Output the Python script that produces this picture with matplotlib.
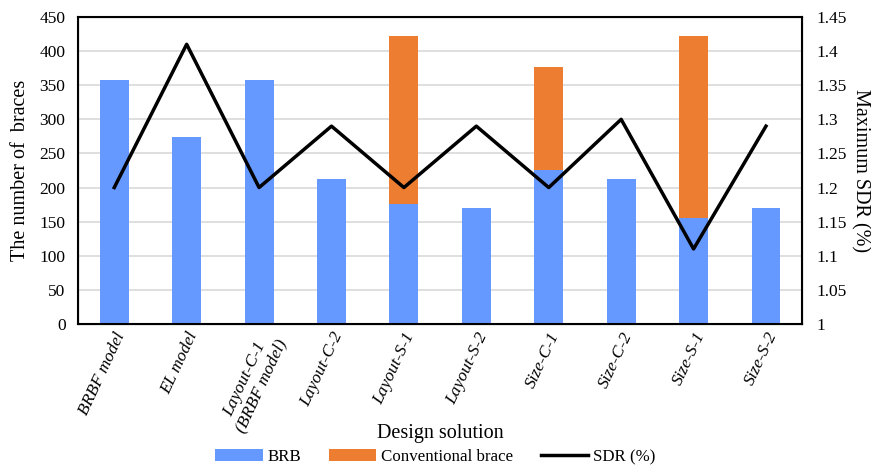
import matplotlib.pyplot as plt
import numpy as np

plt.rcParams['font.family'] = ['Liberation Serif', 'DejaVu Serif']

# data
designs = ["BRBF model", "EL model", "Layout-C-1\n(BRBF model)", "Layout-C-2",
           "Layout-S-1", "Layout-S-2", "Size-C-1", "Size-C-2", "Size-S-1", "Size-S-2"]
brb = [358, 274, 358, 212, 176, 170, 225, 212, 156, 170]
conventional = [0, 0, 0, 0, 246, 0, 151, 0, 266, 0]
sdr = [1.20, 1.41, 1.20, 1.29, 1.20, 1.29, 1.20, 1.30, 1.11, 1.29]

fig = plt.figure(figsize=(8.71, 4.68), dpi=100)
ax = fig.add_axes([0.0896, 0.3077, 0.8314, 0.656])
x = np.arange(len(designs))

ax.bar(x, brb, width=0.4, color="#6699ff", label="BRB", zorder=2)
ax.bar(x, conventional, width=0.4, bottom=brb, color="#ed7d31",
       label="Conventional brace", zorder=2)
ax.set_ylim(0, 450)
ax.set_yticks(np.arange(0, 451, 50))
ax.set_xlim(-0.5, len(designs) - 0.5)
ax.yaxis.grid(True, color="#d9d9d9", linewidth=1.2, zorder=0)
ax.set_axisbelow(True)
ax.tick_params(axis="y", length=0, labelsize=12.5, pad=9)
ax.tick_params(axis="x", length=0, labelsize=12.5, pad=4)
ax.set_xticks(x)
ax.set_xticklabels(designs, rotation=65, ha="right", rotation_mode="anchor",
                   style="italic", multialignment="center")
ax.set_ylabel("The number of  braces", fontsize=14.5, labelpad=7)
ax.set_xlabel("Design solution", fontsize=14.5)
ax.xaxis.set_label_coords(0.5, -0.325)
for s in ax.spines.values():
    s.set_linewidth(1.5)

ax2 = ax.twinx()
ax2.plot(x, sdr, color="black", linewidth=2.5, label="SDR (%)", zorder=3)
ax2.set_ylim(1.0, 1.45)
ax2.set_yticks(np.arange(1.0, 1.451, 0.05))
ax2.set_yticklabels(["1", "1.05", "1.1", "1.15", "1.2", "1.25", "1.3", "1.35", "1.4", "1.45"])
ax2.tick_params(axis="y", length=0, labelsize=12.5, pad=10)
ax2.set_ylabel("Maximum SDR (%)", fontsize=14.5, rotation=270, va="center")
ax2.yaxis.set_label_coords(1.08, 0.5)

h1, l1 = ax.get_legend_handles_labels()
h2, l2 = ax2.get_legend_handles_labels()
fig.legend(h1 + h2, l1 + l2, loc="center", ncol=3, frameon=False,
           fontsize=12.2, bbox_to_anchor=(0.5, 0.023), handlelength=2.8,
           handletextpad=0.3, columnspacing=1.6)

plt.savefig("out.png", dpi=100)
